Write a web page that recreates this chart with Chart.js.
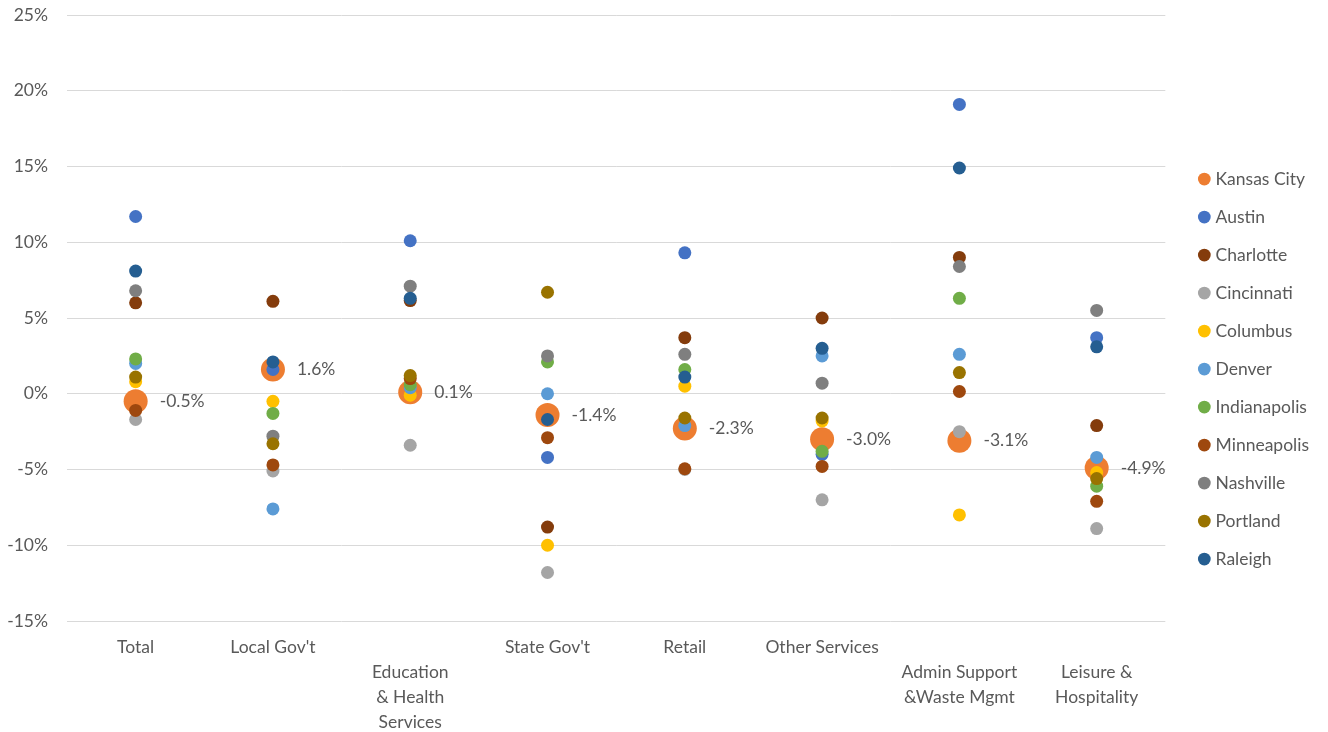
<!DOCTYPE html>
<html>
<head>
<meta charset="utf-8">
<script src="https://cdn.jsdelivr.net/npm/chart.js@4.4.1/dist/chart.umd.min.js"></script>
<style>
html,body{margin:0;padding:0;background:#fff;}
#wrap{width:1328px;height:732px;position:relative;}
</style>
</head>
<body>
<div id="wrap"><canvas id="c" width="1328" height="732"></canvas></div>
<script>
const categories = [
  "Total",
  "Local Gov't",
  ["", "Education", "& Health", "Services"],
  "State Gov't",
  "Retail",
  "Other Services",
  ["", "Admin Support", "&Waste Mgmt"],
  ["", "Leisure &", "Hospitality"]
];
const cityNames = ["Kansas City","Austin","Charlotte","Cincinnati","Columbus","Denver","Indianapolis","Minneapolis","Nashville","Portland","Raleigh"];
const kansasCity   = [-0.5, 1.6, 0.1, -1.4, -2.3, -3.0, -3.1, -4.9];
const austin       = [11.7, 1.6, 10.1, -4.2, 9.3, -4.0, 19.1, 3.7];
const charlotte    = [6.0, 6.1, 6.15, -8.8, 3.7, 5.0, 9.0, -2.1];
const cincinnati   = [-1.7, -5.1, -3.4, -11.8, -5.0, -7.0, -2.5, -8.9];
const columbus     = [0.8, -0.5, -0.1, -10.0, 0.5, -1.8, -8.0, -5.2];
const denver       = [2.0, -7.6, 0.4, 0.0, -2.1, 2.5, 2.6, -4.2];
const indianapolis = [2.3, -1.3, 0.6, 2.1, 1.6, -3.8, 6.3, -6.1];
const minneapolis  = [-1.1, -4.7, 1.0, -2.9, -4.95, -4.8, 0.15, -7.1];
const nashville    = [6.8, -2.8, 7.1, 2.5, 2.6, 0.7, 8.4, 5.5];
const portland     = [1.1, -3.3, 1.2, 6.7, -1.6, -1.6, 1.4, -5.6];
const raleigh      = [8.1, 2.1, 6.3, -1.7, 1.1, 3.0, 14.9, 3.1];
const yTicks = [-15, -10, -5, 0, 5, 10, 15, 20, 25];

const seriesValues = [kansasCity, austin, charlotte, cincinnati, columbus, denver, indianapolis, minneapolis, nashville, portland, raleigh];
const colors = ["#ED7D31","#4472C4","#843C0C","#A5A5A5","#FFC000","#5B9BD5","#70AD47","#9E480E","#7F7F7F","#997300","#255E91"];

const FONT = "Lato";
const FS = 17.5;
const TXT = "#595959";

const datasets = seriesValues.map((vals, i) => ({
  label: cityNames[i],
  data: vals,
  showLine: false,
  backgroundColor: colors[i],
  borderColor: colors[i],
  borderWidth: 0,
  pointBackgroundColor: colors[i],
  pointBorderColor: colors[i],
  pointBorderWidth: 0,
  pointRadius: i === 0 ? 12 : 6.5,
  pointHoverRadius: i === 0 ? 12 : 6.5,
  pointStyle: 'circle',
  order: seriesValues.length - 1 - i
}));

const labelPlugin = {
  id: 'kcLabels',
  afterDatasetsDraw(chart) {
    const meta = chart.getDatasetMeta(0);
    const ctx = chart.ctx;
    ctx.save();
    ctx.font = FS + "px " + FONT;
    ctx.fillStyle = TXT;
    ctx.textAlign = 'left';
    ctx.textBaseline = 'middle';
    meta.data.forEach((pt, j) => {
      const v = chart.data.datasets[0].data[j];
      ctx.fillText(v.toFixed(1) + '%', pt.x + 24, pt.y);
    });
    ctx.restore();
  }
};

new Chart(document.getElementById('c'), {
  type: 'line',
  data: { labels: categories, datasets },
  plugins: [labelPlugin],
  options: {
    responsive: false,
    animation: false,
    events: [],
    layout: { padding: { top: 15, right: 9, bottom: 0, left: 0 } },
    plugins: {
      tooltip: { enabled: false },
      legend: {
        position: 'right',
        align: 'start',
        title: { display: true, text: '', font: { size: 12 }, padding: { top: 60.2, bottom: 60.2 } },
        labels: {
          usePointStyle: true,
          boxWidth: 5,
          boxHeight: 9,
          padding: 20.5,
          color: TXT,
          font: { family: FONT, size: FS },
          sort: (a, b) => a.datasetIndex - b.datasetIndex
        }
      }
    },
    scales: {
      x: {
        type: 'category',
        offset: true,
        grid: { display: false, drawTicks: false },
        border: { display: false },
        ticks: {
          color: TXT,
          font: { family: FONT, size: FS, lineHeight: 25 / FS },
          padding: 13.5,
          maxRotation: 0,
          autoSkip: false
        },
        afterFit(scale) { scale.height = 111; }
      },
      y: {
        min: -15, max: 25,
        afterBuildTicks(scale) { scale.ticks = yTicks.map(v => ({ value: v })); },
        grid: { color: '#D9D9D9', lineWidth: 1, drawTicks: true, tickLength: 19, tickColor: 'rgba(0,0,0,0)' },
        border: { display: false },
        ticks: {
          color: TXT,
          font: { family: FONT, size: FS },
          padding: 0,
          callback: (v) => v + '%'
        },
        afterFit(scale) { scale.width = 67; }
      },
      y2: {
        position: 'right',
        display: true,
        grid: { display: false, drawTicks: false },
        border: { display: false },
        ticks: { display: false },
        afterFit(scale) { scale.width = 16; }
      }
    }
  }
});
</script>
</body>
</html>
